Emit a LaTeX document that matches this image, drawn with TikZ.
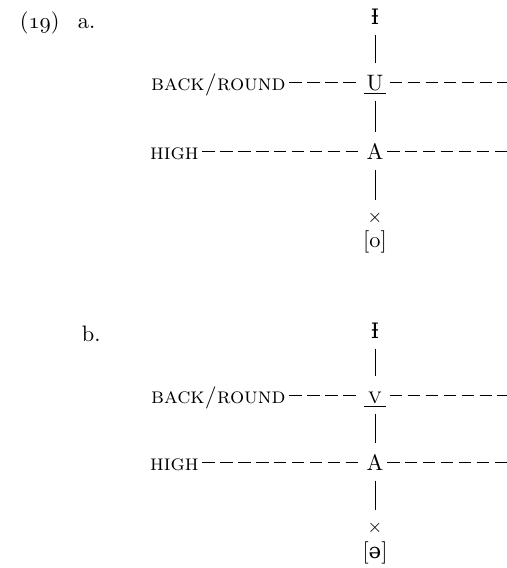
\documentclass[tikz,border=0pt,11pt]{standalone}
\usepackage{fontspec}
\newfontfamily\ipafont{DejaVu Serif}[Scale=0.95]
\newcommand\oldnum[1]{{\usefont{OML}{cmm}{m}{it}#1}}
\usetikzlibrary{positioning}

\begin{document}
\begin{tikzpicture}[x=0.49pt,y=-0.49pt,
    seg/.style={inner xsep=1.5pt,inner ysep=5pt,text height=8pt,text depth=0pt},
    feat/.style={font=\scshape,anchor=east,inner sep=1.5pt,text height=8pt,text depth=0pt},
    cross/.style={inner sep=0pt,minimum height=17pt,font=\footnotesize},
    tier/.style={dash pattern=on 6.2pt off 2.6pt,line width=.45pt},
    link/.style={line width=.45pt}]
  \useasboundingbox (0,0) rectangle (507,568);
  % (19a)
  \node[anchor=base west] (numa) at (12,29) {(\oldnum{19})};
  \node[anchor=base west] (laba) at (70,29) {a.};
  \node[seg] (Ia) at (375,16) {{\ipafont Ɨ}};
  \node[seg] (Ua) at (375,82) {\underline{\makebox[11pt]{U}}};
  \node[seg] (Aa) at (375,151) {A};
  \node[cross] (xa) at (375,218) {$\times$};
  \node[inner sep=0pt] (oa) at (375,242) {[o]};
  \node[feat] (backa) at (289,82) {back/round};
  \node[feat] (higha) at (202,151) {high};
  \coordinate (enda1) at (507,82);
  \coordinate (enda2) at (507,151);
  \draw[link] (Ia) -- (Ua);
  \draw[link] (Ua) -- (Aa);
  \draw[link] (Aa) -- (xa);
  \draw[tier] (backa) -- (Ua);
  \draw[tier] (Ua) -- (enda1);
  \draw[tier] (higha) -- (Aa);
  \draw[tier] (Aa) -- (enda2);
  % (19b)
  \node[anchor=base west] (labb) at (74,341) {b.};
  \node[seg] (Ib) at (375,330) {{\ipafont Ɨ}};
  \node[seg] (Vb) at (375,395) {\underline{\makebox[11pt]{\textsc{v}}}};
  \node[seg] (Ab) at (375,462) {A};
  \node[cross] (xb) at (375,528) {$\times$};
  \node[inner sep=0pt] (schwab) at (375,553) {[{\ipafont ə}]};
  \node[feat] (backb) at (289,395) {back/round};
  \node[feat] (highb) at (202,462) {high};
  \coordinate (endb1) at (507,395);
  \coordinate (endb2) at (507,462);
  \draw[link] (Ib) -- (Vb);
  \draw[link] (Vb) -- (Ab);
  \draw[link] (Ab) -- (xb);
  \draw[tier] (backb) -- (Vb);
  \draw[tier] (Vb) -- (endb1);
  \draw[tier] (highb) -- (Ab);
  \draw[tier] (Ab) -- (endb2);
\end{tikzpicture}
\end{document}
